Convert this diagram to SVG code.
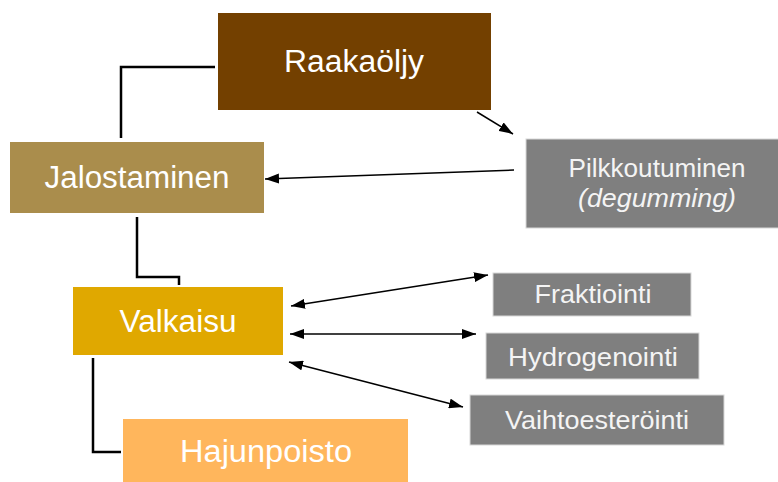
<svg xmlns="http://www.w3.org/2000/svg" width="778" height="482" viewBox="0 0 778 482">
  <defs>
    <style>
      .lbl { font-family: "Liberation Sans", Arial, sans-serif; fill: #ffffff; text-anchor: middle; }
      .big { font-size: 31px; }
      .mid { font-size: 25px; }
      .gray { fill: #7f7f7f; stroke: #d8d8d8; stroke-width: 1; }
      .glbl { fill: #f4f4f4; }
      .elbow { fill: none; stroke: #000000; stroke-width: 2.5; }
      .arrow { fill: none; stroke: #000000; stroke-width: 1.5; }
    </style>
    <marker id="head" viewBox="0 0 14 10" refX="14" refY="5" markerWidth="14" markerHeight="10" markerUnits="userSpaceOnUse" orient="auto-start-reverse">
      <path d="M0,0 L14,5 L0,10 z" fill="#000000"/>
    </marker>
  </defs>

  <!-- connectors -->
  <g id="connectors">
    <polyline class="elbow" points="215,67 121,67 121,138"/>
    <polyline class="elbow" points="137,217 137,277 179,277 179,285"/>
    <polyline class="elbow" points="93,358 93,452 121,452"/>
    <line class="arrow" x1="477" y1="112" x2="513" y2="134" marker-end="url(#head)"/>
    <line class="arrow" x1="514" y1="170" x2="265" y2="179" marker-end="url(#head)"/>
    <line class="arrow" x1="291" y1="306" x2="488" y2="275" marker-start="url(#head)" marker-end="url(#head)"/>
    <line class="arrow" x1="290" y1="334" x2="476" y2="334" marker-start="url(#head)" marker-end="url(#head)"/>
    <line class="arrow" x1="289" y1="362" x2="463" y2="407" marker-start="url(#head)" marker-end="url(#head)"/>
  </g>

  <g id="raakaoljy">
    <rect x="218" y="13" width="273" height="97" fill="#734000"/>
    <text class="lbl big" x="354" y="72" textLength="140" lengthAdjust="spacingAndGlyphs">Raakaöljy</text>
  </g>

  <g id="jalostaminen">
    <rect x="10" y="142" width="254" height="71" fill="#aa8d4c"/>
    <text class="lbl big" x="137" y="188" textLength="185" lengthAdjust="spacingAndGlyphs">Jalostaminen</text>
  </g>

  <g id="pilkkoutuminen">
    <rect class="gray" x="526" y="139" width="253" height="89"/>
    <text class="lbl mid glbl" x="657" y="177" textLength="177" lengthAdjust="spacingAndGlyphs">Pilkkoutuminen</text>
    <text class="lbl mid glbl" x="657" y="207" font-style="italic" textLength="158" lengthAdjust="spacingAndGlyphs">(degumming)</text>
  </g>

  <g id="valkaisu">
    <rect x="73" y="287" width="210" height="68" fill="#e0a800"/>
    <text class="lbl big" x="178" y="332" font-size="32" textLength="117" lengthAdjust="spacingAndGlyphs">Valkaisu</text>
  </g>

  <g id="hajunpoisto">
    <rect x="123" y="419" width="285" height="63" fill="#ffb65c"/>
    <text class="lbl big" x="266" y="462" textLength="172" lengthAdjust="spacingAndGlyphs">Hajunpoisto</text>
  </g>

  <g id="fraktiointi">
    <rect class="gray" x="493" y="273" width="198" height="43"/>
    <text class="lbl mid glbl" x="593" y="303" textLength="117" lengthAdjust="spacingAndGlyphs">Fraktiointi</text>
  </g>

  <g id="hydrogenointi">
    <rect class="gray" x="486" y="333" width="213" height="46"/>
    <text class="lbl mid glbl" x="593" y="366" textLength="170" lengthAdjust="spacingAndGlyphs">Hydrogenointi</text>
  </g>

  <g id="vaihtoesterointi">
    <rect class="gray" x="470" y="395" width="254" height="50"/>
    <text class="lbl mid glbl" x="597" y="429" textLength="184" lengthAdjust="spacingAndGlyphs">Vaihtoesteröinti</text>
  </g>
</svg>
